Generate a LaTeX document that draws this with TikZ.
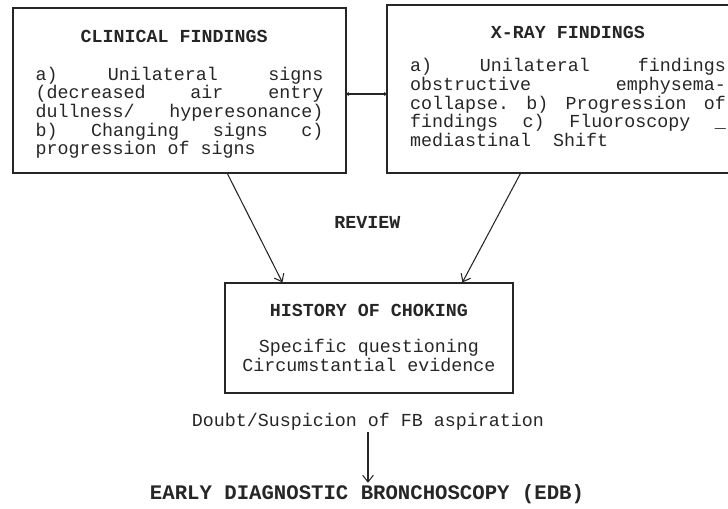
\documentclass[tikz,border=0pt]{standalone}
\usepackage{fontspec}
\setmonofont{Liberation Mono}
\usepackage{tikz}
\usetikzlibrary{
  arrows.meta,
  calc,
  positioning
}
\newcommand{\jline}[1]{\makebox[\hsize][l]{#1}}
\newcommand{\monofont}{\ttfamily\fontsize{13.75}{14}\selectfont}

\begin{document}
\begin{tikzpicture}[
  x=0.75pt, y=-0.75pt,
  box/.style={draw, line width=0.9pt, inner sep=0pt, font=\monofont,
    execute at begin node={\spaceskip=0.6em\xspaceskip=0.6em\relax}},
  txt/.style={font=\monofont, inner sep=1pt},
  arrow/.style={-{Straight Barb[length=5pt, width=8pt]}, line width=0.8pt},
]
\useasboundingbox (0,0) rectangle (728,508);
\begin{scope}[black!85]
% Top row: the two kinds of findings
\node[box, minimum width=249.75pt, minimum height=123.75pt, text width=216pt, align=flush left] (clin) at (179.5, 90.5) {%
  \jline{\rule{0pt}{15pt}\hfill\bfseries CLINICAL FINDINGS\hspace{8pt}\hfill}\\[14.5pt]
  \jline{a)~\hfill Unilateral~\hfill signs}\\
  \jline{(decreased~\hfill air~\hfill entry}\\
  \jline{dullness/~\hfill hyperesonance)}\\
  \jline{b)~\hfill Changing~\hfill signs~\hfill c)}\\
  progression of signs};
\node[box, minimum width=271.5pt, minimum height=126pt, text width=237pt, align=flush left] (xray) at (568, 89) {%
  \jline{\hfill\bfseries X-RAY FINDINGS\hfill}\\[11pt]
  \jline{a)~\hfill Unilateral~\hfill findings}\\
  \jline{obstructive~\hfill emphysema-}\\
  \jline{collapse.~\hfill b)~\hfill Progression~\hfill of}\\
  \jline{findings~\hfill c)~\hfill Fluoroscopy~\hfill \_}\\
  mediastinal~~Shift\rule[-4pt]{0pt}{1pt}};

% Middle: history box
\node[txt, font=\monofont\bfseries] (review) at (367.5, 222) {REVIEW};
\node[box, minimum width=216pt, minimum height=82.5pt, align=center] (hist) at (369, 338) {%
  \textbf{HISTORY OF CHOKING}\\[13pt]
  Specific questioning\\[0.5pt]
  Circumstantial evidence};

% Bottom: outcome
\node[txt] (doubt) at (368, 422) {Doubt/Suspicion of FB aspiration};
\node[txt, font=\ttfamily\bfseries\fontsize{15.5}{16}\selectfont] (edb) at (367, 494) {EARLY DIAGNOSTIC BRONCHOSCOPY (EDB)};

% Connectors
\draw[line width=0.9pt, {Circle[length=2.5pt]}-{Circle[length=2.5pt]}] ($(clin.east)+(0,3.5)$) -- ($(clin.east -| xray.west)+(0,3.5)$);
\draw[arrow] ($(clin.south west)+(215,0)$) -- ($(hist.north west)+(58,0)$);
\draw[arrow] ($(xray.south west)+(134,0)$) -- ($(hist.north west)+(238,0)$);
\draw[arrow] (doubt.south) -- (doubt.south |- edb.north);
\end{scope}
\end{tikzpicture}
\end{document}
